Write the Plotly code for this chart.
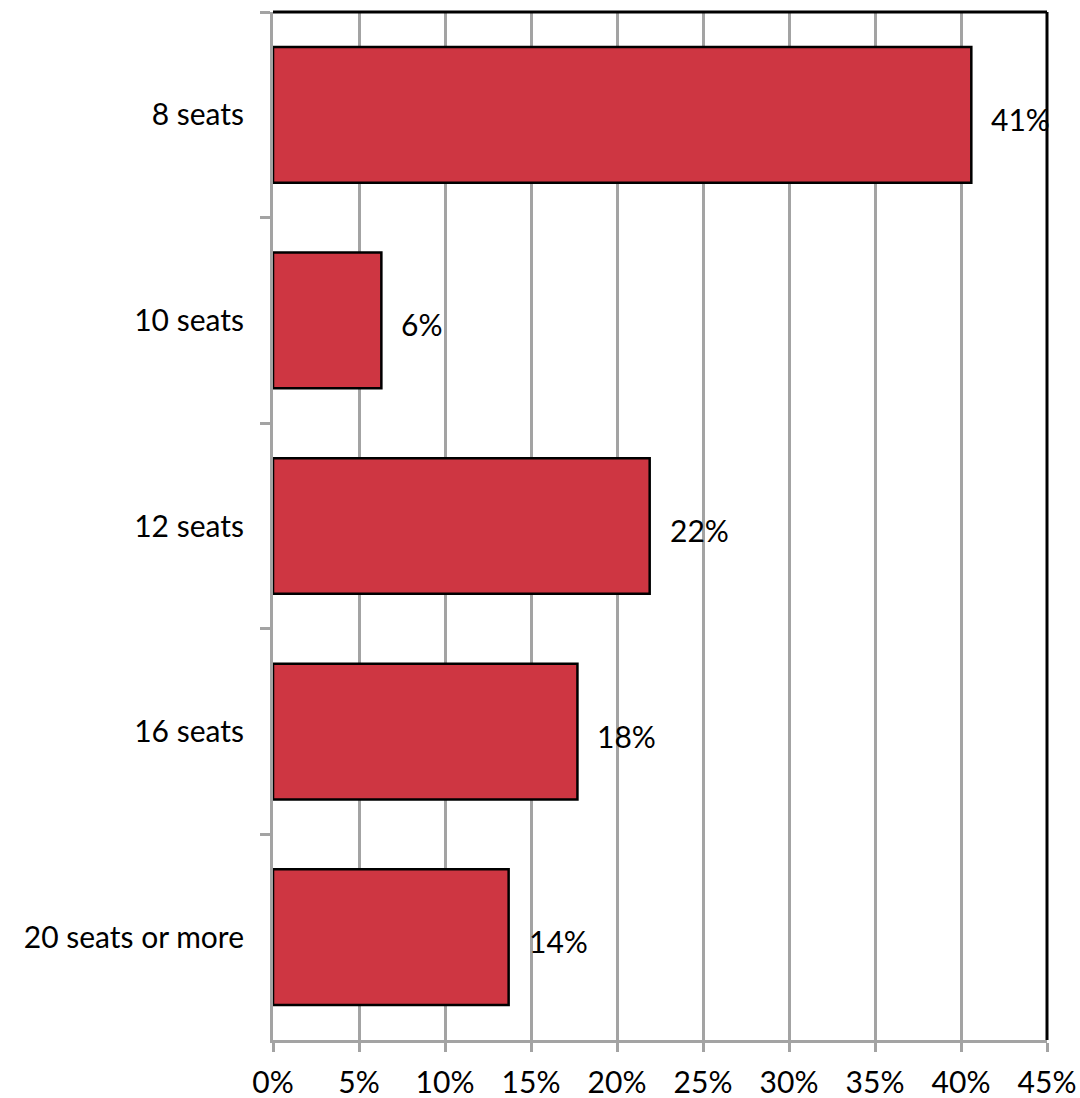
import plotly.graph_objects as go

# Share of venues by seating capacity
categories = ["8 seats", "10 seats", "12 seats", "16 seats", "20 seats or more"]
shares = [40.6, 6.3, 21.9, 17.7, 13.7]
tick_vals = [0, 5, 10, 15, 20, 25, 30, 35, 40, 45]
tick_text = [f"{v}%" for v in tick_vals]

FONT = "Lato"
FSIZE = 30
GRID = "#A3A3A3"

fig = go.Figure(
    go.Bar(
        x=shares,
        y=categories,
        orientation="h",
        marker=dict(color="#CE3642", line=dict(color="black", width=2.5)),
        width=0.66,
        hoverinfo="skip",
    )
)

# Value labels to the right of each bar
for cat, v in zip(categories, shares):
    fig.add_annotation(
        x=v, y=cat, text=f"{v:.0f}%", showarrow=False,
        xanchor="left", xshift=18, yshift=-4,
        font=dict(family=FONT, size=FSIZE, color="black"),
    )

# Black frame on top and right
fig.add_shape(type="line", xref="paper", yref="paper", x0=0, x1=1, y0=1, y1=1,
              line=dict(color="black", width=3))
fig.add_shape(type="line", xref="paper", yref="paper", x0=1, x1=1, y0=0, y1=1,
              line=dict(color="black", width=3))

fig.update_layout(
    width=1080, height=1098,
    margin=dict(l=273, r=33, t=12, b=58, autoexpand=False),
    plot_bgcolor="white", paper_bgcolor="white",
    showlegend=False,
    font=dict(family=FONT, size=FSIZE, color="black"),
    xaxis=dict(
        range=[0, 45], tickvals=tick_vals, ticktext=tick_text,
        showgrid=True, gridcolor=GRID, gridwidth=2.5,
        showline=True, linecolor=GRID, linewidth=3,
        ticks="outside", ticklen=9, tickwidth=2.5, tickcolor=GRID,
        ticklabelstandoff=5,
        zeroline=False, fixedrange=True, automargin=False,
        tickfont=dict(family=FONT, size=FSIZE, color="black"),
    ),
    yaxis=dict(
        autorange="reversed", type="category",
        tickson="boundaries",
        showgrid=False,
        showline=True, linecolor=GRID, linewidth=3,
        ticks="outside", ticklen=10, tickwidth=2.5, tickcolor=GRID,
        ticklabelstandoff=20, automargin=False,
        tickfont=dict(family=FONT, size=FSIZE, color="black"),
        fixedrange=True,
    ),
)

fig.write_html("out.html")
